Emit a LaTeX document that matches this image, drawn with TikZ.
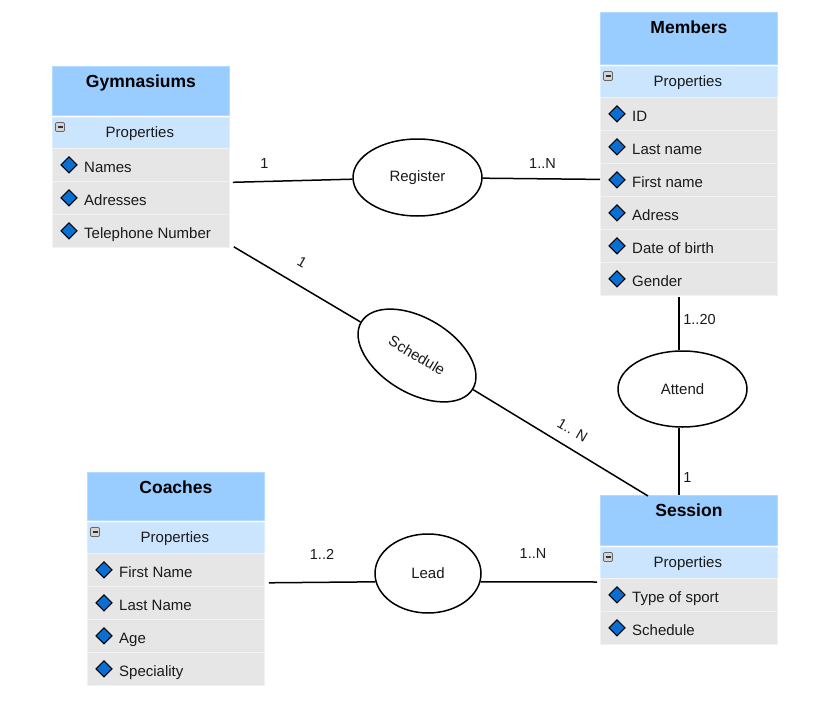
\documentclass[tikz,border=0pt]{standalone}
\usepackage{fontspec}
\setmainfont{Liberation Sans}
\usetikzlibrary{shapes.geometric,calc}
\definecolor{hdrblue}{HTML}{99CCFF}
\definecolor{hdredge}{HTML}{B5DAFF}
\definecolor{propblue}{HTML}{CCE5FF}
\definecolor{propedge}{HTML}{DCEDFF}
\definecolor{rowgray}{HTML}{E6E6E6}
\definecolor{sepgray}{HTML}{F2F2F2}
\definecolor{diablue}{HTML}{0A6FD2}
\definecolor{txt}{HTML}{1A1A1A}
\definecolor{minusgray}{HTML}{D4D4D4}
\tikzset{
  hdr/.style={anchor=north west, fill=hdrblue, draw=hdredge, line width=0.8pt, inner sep=0pt, minimum width=177pt},
  ttl/.style={anchor=base, font=\fontsize{17.5}{20}\selectfont\bfseries, text=black, inner sep=0pt},
  prop/.style={anchor=north west, fill=propblue, draw=propedge, line width=0.8pt, inner sep=0pt, minimum width=177pt, minimum height=31pt},
  ptxt/.style={anchor=base, font=\fontsize{15}{18}\selectfont, text=txt, inner sep=0pt},
  minusicon/.style={rectangle, rounded corners=1.2pt, fill=minusgray, draw=black!60, line width=0.7pt, minimum width=9pt, minimum height=9pt, inner sep=0pt,
    path picture={\draw[line width=1.4pt, black!80] ([xshift=2pt]path picture bounding box.west) -- ([xshift=-2pt]path picture bounding box.east);}},
  rowbox/.style={anchor=north west, fill=rowgray, draw=sepgray, line width=0.8pt, inner sep=0pt, minimum width=177pt, minimum height=33pt},
  dia/.style={diamond, fill=diablue, draw=black, line width=1pt, minimum width=16.5pt, minimum height=16.5pt, inner sep=0pt},
  rtxt/.style={anchor=base west, font=\fontsize{15}{18}\selectfont, text=txt, inner sep=0pt},
  rel/.style={ellipse, draw=black, line width=1.5pt, fill=white, inner sep=0pt, font=\fontsize{15}{18}\selectfont, text=txt},
  conn/.style={draw=black, line width=1.5pt},
  card/.style={font=\fontsize{14.5}{17}\selectfont, text=txt, inner sep=0pt},
}
\newcommand\erent[6]{%
  \node[hdr, minimum height=#4pt] (#1h) at (#2,#3) {};
  \node[ttl] (#1t) at ($(#1h.north)+(0,21.5)$) {#5};
  \node[prop] (#1p) at (#2,{#3+#4+2}) {};
  \node[ptxt] (#1pt) at ($(#1p.north)+(-1,20.5)$) {Properties};
  \node[minusicon] (#1m) at ($(#1p.north west)+(8,10)$) {};
  \foreach \t [count=\i] in {#6} {
    \node[rowbox] (#1r\i) at (#2,{#3+#4+33+(\i-1)*33}) {};
    \node[dia] (#1d\i) at ($(#1r\i.west)+(17,0)$) {};
    \node[rtxt] (#1x\i) at ($(#1r\i.west)+(32,7.5)$) {\t};
  }
}
\begin{document}
\begin{tikzpicture}[x=1pt,y=-1pt]
\useasboundingbox (0,0) rectangle (828,704);
\fill[white] (0,0) rectangle (828,704);

\erent{gym}{52}{66}{49}{Gymnasiums}{Names,Adresses,Telephone Number}
\erent{mem}{600}{12}{52}{Members}{ID,Last name,First name,Adress,Date of birth,Gender}
\erent{ses}{600}{495}{50}{Session}{Type of sport,Schedule}
\erent{coa}{87}{472}{48}{Coaches}{First Name,Last Name,Age,Speciality}

% relationships
\node[rel, minimum width=129pt, minimum height=77pt] (reg) at (417.5,177.5) {Register};
\node[rel, minimum width=130pt, minimum height=75pt, rotate=-31] (sch) at (417,355.5) {Schedule};
\node[rel, minimum width=129pt, minimum height=76pt] (att) at (682.5,389) {Attend};
\node[rel, minimum width=106pt, minimum height=79pt] (lead) at (428,573.5) {Lead};

% connector end points
\coordinate (gymA) at ($(gymr1.south east)+(3,0.5)$);
\coordinate (memA) at ($(memr3.west)+(0,-0.5)$);
\coordinate (gymB) at ($(gymr3.south east)+(4,-1)$);
\coordinate (sesA) at ($(sesh.north west)+(48,1)$);
\coordinate (memB) at ($(memr6.south west)+(79,1)$);
\coordinate (sesB) at ($(sesh.north west)+(79,0)$);
\coordinate (coaA) at ($(coar1.south east)+(4,-4)$);
\coordinate (sesC) at ($(sesr1.north west)+(-3,4)$);

\draw[conn] (gymA) -- (reg);
\draw[conn] (reg) -- (memA);
\draw[conn] (gymB) -- (sch);
\draw[conn] (sch) -- (sesA);
\draw[conn] (memB) -- (memB |- att.north);
\draw[conn] (att.south -| sesB) -- (sesB);
\draw[conn] (coaA) -- (lead.189);
\draw[conn] (lead.351) -- (sesC);

% cardinalities
\node[card] (c1) at (264.5,164) {1};
\node[card] (c2) at (542.5,164) {1..N};
\node[card, rotate=-30] (c3) at (302,262) {1};
\node[card, rotate=-30] (c4) at (572.5,430) {1.. N};
\node[card] (c5) at (699.5,320) {1..20};
\node[card] (c6) at (687.5,478) {1};
\node[card] (c7) at (322,554) {1..2};
\node[card] (c8) at (533,554) {1..N};
\end{tikzpicture}
\end{document}
